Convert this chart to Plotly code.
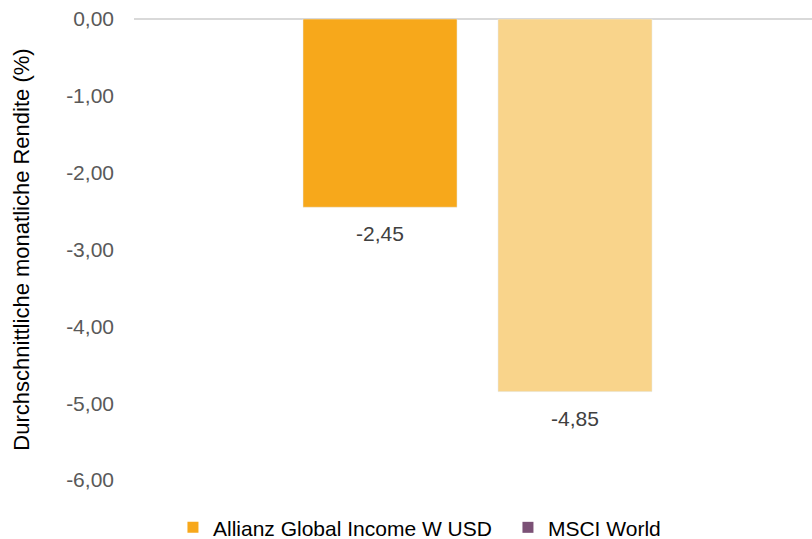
import plotly.graph_objects as go

categories = [""]
series_names = ["Allianz Global Income W USD", "MSCI World"]
fund_values = [-2.45]
index_values = [-4.85]
bar_colors = ["#F7A81B", "#F9D48B"]
legend_colors = ["#F7A81B", "#7B5176"]
y_ticks = [0, -1, -2, -3, -4, -5, -6]
y_tick_labels = ["0,00", "-1,00", "-2,00", "-3,00", "-4,00", "-5,00", "-6,00"]

FONT = "Liberation Sans, Arial, sans-serif"

fig = go.Figure()
for i, (vals, col, name) in enumerate([(fund_values, bar_colors[0], series_names[0]),
                                       (index_values, bar_colors[1], series_names[1])]):
    fig.add_trace(go.Bar(
        x=categories, y=vals, name=name, marker_color=col, showlegend=False,
        offsetgroup=str(i), hoverinfo="skip",
    ))
    fig.add_trace(go.Scatter(
        x=categories, y=vals, mode="markers+text", offsetgroup=str(i), showlegend=False,
        marker=dict(size=28, opacity=0, color="white"), hoverinfo="skip",
        text=[f"{v:.2f}".replace(".", ",") for v in vals],
        textposition="bottom center", cliponaxis=False,
        textfont=dict(size=21, color="#404040", family=FONT),
    ))
for name, col in zip(series_names, legend_colors):
    fig.add_trace(go.Scatter(
        x=[None], y=[None], mode="markers", name=name,
        marker=dict(symbol="square", size=11, color=col),
    ))

fig.update_layout(
    width=812, height=539,
    margin=dict(l=134, r=0, t=19, b=59, autoexpand=False),
    paper_bgcolor="white", plot_bgcolor="white",
    separators=",.",
    barmode="group", bargap=0.4, bargroupgap=0.21,
    scattermode="group", scattergap=0.4,
    font=dict(family=FONT, size=21, color="#000000"),
    showlegend=True,
    legend=dict(orientation="h", xref="container", x=0.213, xanchor="left",
                yref="container", y=0.021, yanchor="middle",
                entrywidth=290, entrywidthmode="pixels",
                font=dict(size=21, color="#000000"),
                bgcolor="rgba(0,0,0,0)"),
)
fig.update_xaxes(range=[-0.5285, 0.5146], showticklabels=False, showgrid=False,
                 zeroline=False, showline=False)
fig.update_yaxes(range=[-6, 0], tickvals=y_ticks, ticktext=y_tick_labels,
                 showgrid=False, automargin=False,
                 zeroline=True, zerolinecolor="#D9D9D9", zerolinewidth=2,
                 showline=False, ticks="", ticklabelstandoff=19,
                 tickfont=dict(size=21, color="#595959"),
                 title=dict(text="Durchschnittliche monatliche Rendite (%)",
                            font=dict(size=22, color="#000000"), standoff=30))

fig.write_html("out.html", config={"displayModeBar": False},
               post_script="document.body.style.margin='0';")
